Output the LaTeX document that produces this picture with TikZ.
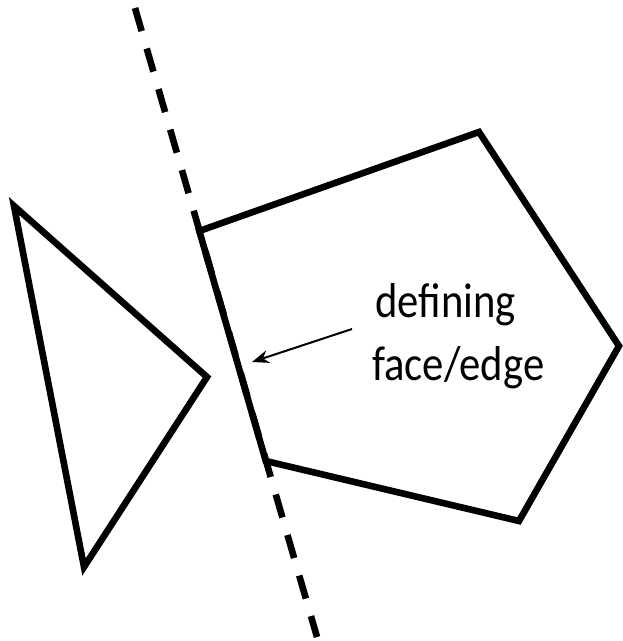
\documentclass[tikz,border=0pt]{standalone}
\usepackage{fontspec}
\setmainfont{Carlito}[FakeStretch=0.87]
\usetikzlibrary{arrows.meta}
\tikzset{
  shape line/.style={line width=6.6pt, line join=miter, black},
  cut line/.style={line width=6.6pt, dash pattern=on 24pt off 18.2pt, black},
  pointer/.style={line width=2pt, -{Stealth[length=17pt,width=13pt]}},
  label text/.style={font=\fontsize{49}{63}\selectfont, anchor=base west, inner sep=0pt}
}
\begin{document}
\begin{tikzpicture}[x=1pt,y=-1pt]
\useasboundingbox (0,0) rectangle (623,641);
% dashed separating line
\coordinate (ltop) at (135,8);
\coordinate (lbot) at (317,637);
\draw[cut line] (ltop) -- (lbot);
% pentagon
\coordinate (p1) at (199.3,231);
\coordinate (p2) at (479,132);
\coordinate (p3) at (619,346);
\coordinate (p4) at (519,521);
\coordinate (p5) at (265.8,461);
\draw[shape line] (p1) -- (p2) -- (p3) -- (p4) -- (p5) -- cycle;
% triangle
\coordinate (t1) at (14,206);
\coordinate (t2) at (207,377);
\coordinate (t3) at (84,567);
\draw[shape line] (t1) -- (t2) -- (t3) -- cycle;
% label
\node[label text] (lbl1) at (375,317) {defining};
\node[label text] (lbl2) at (372,380) {face/edge};
\coordinate (astart) at (352,329);
\coordinate (aend) at (252,362);
\draw[pointer] (astart) -- (aend);
\end{tikzpicture}
\end{document}
